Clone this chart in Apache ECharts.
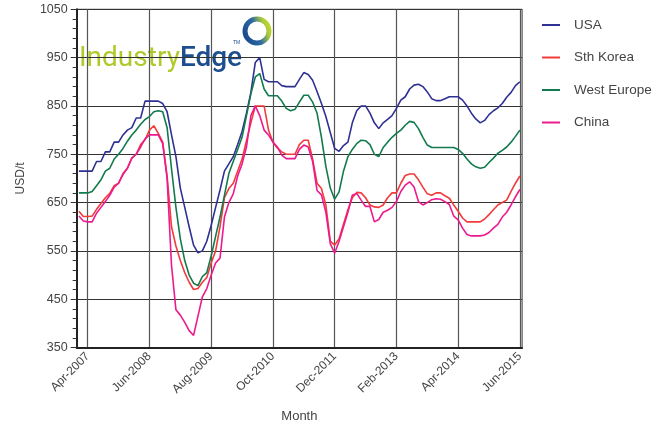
<!DOCTYPE html>
<html>
<head>
<meta charset="utf-8">
<script src="https://cdn.jsdelivr.net/npm/echarts@6/dist/echarts.min.js"></script>
<style>
  html, body { margin: 0; padding: 0; background: #fff; }
  #chart { width: 667px; height: 430px; }
</style>
</head>
<body>
<div id="chart"></div>
<script>
// month labels, Feb-2007 .. Jun-2015
var monthNames = ['Jan', 'Feb', 'Mar', 'Apr', 'May', 'Jun', 'Jul', 'Aug', 'Sep', 'Oct', 'Nov', 'Dec'];
var months = [];
for (var m = 1; m <= 101; m++) {
    months.push(monthNames[m % 12] + '-' + (2007 + Math.floor(m / 12)));
}

// USD/t
var usa = [
    715, 715, 715, 715, 735, 735, 755, 755, 775, 775,
    790, 800, 805, 825, 825, 860, 860, 860, 860, 855,
    838, 790, 745, 680, 640, 600, 562, 546, 550, 570,
    603, 640, 676, 715, 730, 745, 770, 797, 835, 878,
    940, 950, 905, 900, 900, 900, 892, 890, 890, 890,
    905, 919, 915, 903, 880, 855, 828, 795, 762, 756,
    768, 775, 815, 840, 850, 850, 835, 815, 803, 815,
    822, 830, 845, 862, 869, 885, 893, 895, 890, 879,
    865, 861, 861, 865, 869, 869, 869, 862, 850, 835,
    823, 815, 820, 832, 840, 846, 855, 868, 878, 892,
    900
];
var sthKorea = [
    632, 621, 621, 622, 636, 648, 660, 669, 685, 690,
    710, 721, 742, 750, 770, 780, 800, 809, 793, 775,
    705, 600, 560, 530, 505, 485, 470, 472, 485, 495,
    525, 550, 600, 660, 679, 690, 715, 740, 778, 815,
    850, 850, 850, 800, 775, 763, 755, 750, 750, 750,
    770, 779, 779, 740, 690, 679, 645, 570, 562, 575,
    605, 635, 660, 671, 670, 660, 645, 641, 640, 645,
    660, 670, 670, 690, 706, 709, 709, 697, 682, 668,
    665, 670, 670, 664, 659, 645, 632, 618, 610, 610,
    610, 610, 616, 625, 635, 645, 650, 655, 673, 690,
    705
];
var westEurope = [
    670, 670, 670, 673, 685, 697, 715, 721, 740, 750,
    762, 777, 790, 800, 812, 822, 828, 838, 840, 838,
    805, 720, 640, 575, 530, 500, 483, 478, 497, 505,
    540, 580, 620, 665, 710, 735, 760, 785, 830, 875,
    910, 917, 885, 871, 871, 871, 860, 845, 840, 843,
    858, 872, 872, 858, 835, 785, 725, 680, 657, 672,
    715, 745, 760, 772, 779, 778, 770, 750, 745, 764,
    775, 785, 793, 800, 810, 818, 816, 803, 785, 769,
    764, 764, 764, 764, 764, 764, 760, 752, 740, 730,
    724, 721, 723, 733, 742, 752, 758, 765, 775, 787,
    800
];
var china = [
    622, 612, 610, 610, 628, 640, 652, 665, 682, 690,
    708, 721, 742, 750, 765, 782, 790, 790, 790, 772,
    700, 520, 428, 417, 402, 385, 375, 415, 455, 472,
    500, 525, 535, 620, 650, 668, 705, 730, 765, 830,
    850, 830, 800, 790, 775, 765, 748, 741, 741, 741,
    760, 769, 765, 735, 675, 666, 630, 565, 545, 570,
    600, 630, 665, 669, 655, 642, 642, 610, 615, 630,
    634, 640, 652, 673, 686, 693, 682, 652, 645, 650,
    656, 658, 657, 652, 646, 622, 614, 597, 584, 581,
    581, 581, 583, 588, 597, 605, 620, 630, 645, 662,
    677
];

var names = ['USA', 'Sth Korea', 'West Europe', 'China'];
var colors = ['#2e3192', '#f23b3b', '#137a4d', '#ec1a8e'];
var values = [usa, sthKorea, westEurope, china];

// labels every 14 months, starting Apr-2007
function showTick(i) {
    return (i - 2) % 14 === 0;
}

var font = 'Liberation Sans, Arial, sans-serif';

var series = names.map(function (n, k) {
    return {
        name: n,
        type: 'line',
        data: values[k],
        symbol: 'none',
        lineStyle: { width: 1.6, color: colors[k] },
        itemStyle: { color: colors[k] }
    };
});

var myChart = echarts.init(document.getElementById('chart'));
myChart.setOption({
    animation: false,
    backgroundColor: '#fff',
    color: colors,
    grid: {
        left: 76.7, top: 9.3, width: 445.4, height: 338.2,
        show: true, borderColor: '#333', borderWidth: 1
    },
    legend: {
        orient: 'vertical',
        left: 537, top: 13,
        icon: 'rect',
        itemWidth: 18, itemHeight: 2, itemGap: 18.5,
        textStyle: { fontFamily: font, fontSize: 13.5, color: '#444', padding: [0, 0, 0, 9] },
        data: names
    },
    xAxis: {
        type: 'category',
        data: months,
        boundaryGap: true,
        name: 'Month',
        nameLocation: 'middle',
        nameGap: 62,
        nameTextStyle: { fontFamily: font, fontSize: 13, color: '#444' },
        axisLine: { lineStyle: { color: '#222', width: 2 } },
        axisTick: { alignWithLabel: true, interval: showTick, length: 6, lineStyle: { color: '#333' } },
        axisLabel: { interval: showTick, rotate: 45, fontFamily: font, fontSize: 12, color: '#444', margin: 7 },
        splitLine: { show: true, interval: showTick, alignWithLabel: true, lineStyle: { color: '#555', width: 1.2 } }
    },
    yAxis: {
        type: 'value',
        min: 350, max: 1050, interval: 100,
        name: 'USD/t',
        nameLocation: 'middle',
        nameGap: 50,
        nameTextStyle: { fontFamily: font, fontSize: 12, color: '#444' },
        axisLine: { show: true, lineStyle: { color: '#222', width: 2 } },
        axisTick: { show: true, length: 6, lineStyle: { color: '#333' } },
        minorTick: { show: true, splitNumber: 5, length: 4, lineStyle: { color: '#333' } },
        axisLabel: {
            fontFamily: font, fontSize: 12.5, color: '#444', margin: 9,
            formatter: function (v) { return String(v); }
        },
        splitLine: { lineStyle: { color: '#333', width: 1 } }
    },
    // IndustryEdge logo
    graphic: [
        {
            type: 'text', left: 79, top: 45,
            style: {
                text: '{a|Industry}{b|Edge}',
                rich: {
                    a: { fill: '#b2c92c', fontSize: 28, fontFamily: 'Roboto', fontWeight: 400 },
                    b: { fill: '#1d4f8e', fontSize: 28, fontFamily: 'Roboto', fontWeight: 500 }
                }
            }
        },
        { type: 'text', left: 233, top: 40, style: { text: 'TM', fontSize: 5, fill: '#1d4f8e', fontFamily: font } },
        {
            type: 'ring',
            shape: { cx: 257, cy: 31, r: 14.5, r0: 9.5 },
            style: {
                fill: new echarts.graphic.LinearGradient(0, 0.6, 1, 0.2, [
                    { offset: 0, color: '#174a8c' },
                    { offset: 0.45, color: '#2f6aa4' },
                    { offset: 0.75, color: '#a9c93a' },
                    { offset: 1, color: '#cddc2c' }
                ])
            }
        }
    ],
    series: series
});
</script>
</body>
</html>
